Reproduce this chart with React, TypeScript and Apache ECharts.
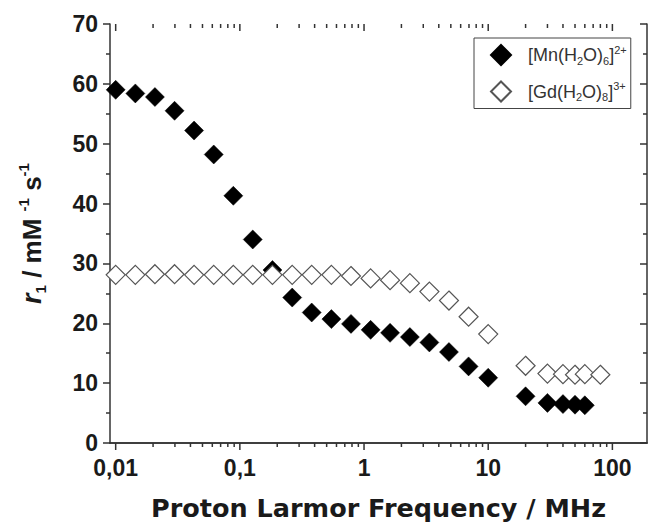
import React, { useEffect, useRef } from "react";
import * as echarts from "echarts";

const freqLow: number[] = [0.01, 0.0144, 0.0207, 0.0298, 0.0428, 0.0616, 0.0886, 0.127, 0.183, 0.264, 0.379, 0.546, 0.785, 1.13, 1.62, 2.34, 3.36, 4.83, 6.95, 10.0];
const freqHigh: number[] = [20, 30, 40, 50, 60, 80];

const mnLow: number[] = [59.0, 58.4, 57.8, 55.5, 52.2, 48.2, 41.3, 34.0, 28.9, 24.3, 21.8, 20.7, 19.9, 18.9, 18.4, 17.7, 16.8, 15.2, 12.8, 10.9];
const mnHigh: number[] = [7.8, 6.7, 6.5, 6.4, 6.3];

const gdLow: number[] = [28.1, 28.1, 28.2, 28.2, 28.1, 28.1, 28.1, 28.1, 28.1, 28.1, 28.1, 28.1, 27.9, 27.5, 27.2, 26.7, 25.3, 23.8, 21.1, 18.2];
const gdHigh: number[] = [12.9, 11.6, 11.5, 11.4, 11.5, 11.4];

const xMajorTicks: number[] = [0.01, 0.1, 1, 10, 100];
const xMinorTicks: number[] = [
  0.02, 0.03, 0.04, 0.05, 0.06, 0.07, 0.08, 0.09,
  0.2, 0.3, 0.4, 0.5, 0.6, 0.7, 0.8, 0.9,
  2, 3, 4, 5, 6, 7, 8, 9,
  20, 30, 40, 50, 60, 70, 80, 90,
];

const seriesNames: string[] = ["Mn", "Gd"];

const AXIS_COLOR = "#333";
const TEXT_COLOR = "#1a1a1a";
const FONT = "'Liberation Sans', Arial, sans-serif";
const Y_MIN = 0;
const Y_MAX = 70;

export default function App() {
  const ref = useRef<HTMLDivElement>(null);

  useEffect(() => {
    if (!ref.current) return;
    const chart = echarts.init(ref.current, null, { renderer: "svg" });

    const mnData = [
      ...freqLow.map((f, i) => [f, mnLow[i]]),
      ...freqHigh.slice(0, mnHigh.length).map((f, i) => [f, mnHigh[i]]),
    ];
    const gdData = [
      ...freqLow.map((f, i) => [f, gdLow[i]]),
      ...freqHigh.map((f, i) => [f, gdHigh[i]]),
    ];

    const xMin = 0.009;
    const xMax = 190;

    // x-axis ticks (bottom: outward, top: inward), placed through the log axis
    const tickSeries = (values: number[], len: number, name: string) => ({
      type: "custom",
      name,
      xAxisIndex: 0,
      yAxisIndex: 0,
      silent: true,
      clip: false,
      z: 1,
      data: values.map((v) => [v, Y_MIN]),
      renderItem: (params: any, api: any) => {
        const v = api.value(0);
        const b = api.coord([v, Y_MIN]);
        const t = api.coord([v, Y_MAX]);
        const style = { stroke: AXIS_COLOR, lineWidth: 1.5, fill: null };
        return {
          type: "group",
          children: [
            { type: "line", shape: { x1: b[0], y1: b[1], x2: b[0], y2: b[1] + len }, style },
            { type: "line", shape: { x1: t[0], y1: t[1], x2: t[0], y2: t[1] + len }, style },
          ],
        };
      },
    });

    const option: any = {
      animation: false,
      backgroundColor: "#fff",
      grid: { left: 110, top: 24, right: 2, bottom: 84, containLabel: false, outerBoundsMode: "none" },
      xAxis: [
        {
          type: "log",
          logBase: 10,
          min: xMin,
          max: xMax,
          position: "bottom",
          splitLine: { show: false },
          axisLine: { show: true, lineStyle: { color: AXIS_COLOR, width: 1.5 } },
          axisTick: { show: false },
          axisLabel: {
            show: true,
            customValues: xMajorTicks,
            margin: 13,
            fontFamily: FONT,
            fontWeight: "bold",
            fontSize: 23,
            color: TEXT_COLOR,
            formatter: (v: number) => {
              const ok = xMajorTicks.some((m) => Math.abs(Math.log10(v) - Math.log10(m)) < 1e-6);
              return ok ? String(v).replace(".", ",") : "";
            },
          },
          name: "Proton Larmor Frequency / MHz",
          nameLocation: "middle",
          nameGap: 52,
          nameTextStyle: { fontFamily: "'DejaVu Sans', sans-serif", fontWeight: "bold", fontSize: 25.5, color: TEXT_COLOR },
        },
        {
          type: "log",
          logBase: 10,
          min: xMin,
          max: xMax,
          position: "top",
          splitLine: { show: false },
          axisLine: { show: true, lineStyle: { color: AXIS_COLOR, width: 1.5 } },
          axisTick: { show: false },
          axisLabel: { show: false },
        },
      ],
      yAxis: [
        {
          type: "value",
          position: "left",
          min: Y_MIN,
          max: Y_MAX,
          interval: 10,
          splitLine: { show: false },
          axisLine: { show: true, lineStyle: { color: AXIS_COLOR, width: 1.5 } },
          axisTick: { show: true, inside: false, length: 7, lineStyle: { color: AXIS_COLOR, width: 1.5 } },
          minorTick: { show: true, splitNumber: 2, length: 4, lineStyle: { color: AXIS_COLOR, width: 1.5 } },
          axisLabel: {
            margin: 12,
            fontFamily: FONT,
            fontWeight: "bold",
            fontSize: 23,
            color: TEXT_COLOR,
          },
          name: "{r|r}{sub|1}{t| / mM }{sup|-1}{t| s}{sup|-1}",
          nameLocation: "middle",
          nameRotate: 90,
          nameGap: 62,
          nameTextStyle: {
            fontFamily: FONT,
            fontWeight: "bold",
            fontSize: 26,
            color: TEXT_COLOR,
            rich: {
              r: { fontFamily: FONT, fontWeight: "bold", fontStyle: "italic", fontSize: 27, color: TEXT_COLOR, verticalAlign: "middle", lineHeight: 32 },
              t: { fontFamily: FONT, fontWeight: "bold", fontSize: 26, color: TEXT_COLOR, verticalAlign: "middle", lineHeight: 32 },
              sub: { fontFamily: FONT, fontWeight: "bold", fontSize: 15, color: TEXT_COLOR, verticalAlign: "bottom", lineHeight: 32 },
              sup: { fontFamily: FONT, fontWeight: "bold", fontSize: 15, color: TEXT_COLOR, verticalAlign: "top", lineHeight: 32 },
            },
          },
        },
        {
          type: "value",
          position: "right",
          min: Y_MIN,
          max: Y_MAX,
          interval: 10,
          splitLine: { show: false },
          axisLine: { show: true, lineStyle: { color: AXIS_COLOR, width: 1.5 } },
          axisTick: { show: true, inside: true, length: 7, lineStyle: { color: AXIS_COLOR, width: 1.5 } },
          minorTick: { show: true, splitNumber: 2, length: 4, lineStyle: { color: AXIS_COLOR, width: 1.5 } },
          axisLabel: { show: false },
        },
      ],
      legend: {
        data: seriesNames,
        orient: "vertical",
        left: 474,
        top: 38,
        padding: [6, 4, 6, 16],
        itemGap: 14.5,
        itemWidth: 20,
        itemHeight: 20,
        borderColor: "#444",
        borderWidth: 1,
        borderRadius: 0,
        backgroundColor: "#fff",
        formatter: (name: string) =>
          name === "Mn"
            ? "{t|[Mn(H}{sub|2}{t|O)}{sub|6}{t|]}{sup|2+}"
            : "{t|[Gd(H}{sub|2}{t|O)}{sub|8}{t|]}{sup|3+}",
        textStyle: {
          padding: [0, 0, 0, 12],
          rich: {
            t: { fontFamily: FONT, fontSize: 18, color: "#333", verticalAlign: "middle", lineHeight: 22 },
            sub: { fontFamily: FONT, fontSize: 11, color: "#333", verticalAlign: "bottom", lineHeight: 22 },
            sup: { fontFamily: FONT, fontSize: 11, color: "#333", verticalAlign: "top", lineHeight: 22 },
          },
        },
      },
      series: [
        tickSeries(xMajorTicks, 7, "majorTicks"),
        tickSeries(xMinorTicks, 4, "minorTicks"),
        {
          name: "Mn",
          type: "scatter",
          xAxisIndex: 0,
          yAxisIndex: 0,
          symbol: "diamond",
          symbolSize: 19,
          itemStyle: { color: "#000", borderColor: "#000", borderWidth: 0.5, opacity: 1 },
          data: mnData,
          z: 2,
        },
        {
          name: "Gd",
          type: "scatter",
          xAxisIndex: 0,
          yAxisIndex: 0,
          symbol: "diamond",
          symbolSize: 19,
          itemStyle: { color: "#fff", borderColor: "#555", borderWidth: 1.2, opacity: 1 },
          data: gdData,
          z: 3,
        },
      ],
    };

    chart.setOption(option);
    return () => chart.dispose();
  }, []);

  return <div ref={ref} style={{ width: 649, height: 527, position: "absolute", left: 0, top: 0 }} />;
}
